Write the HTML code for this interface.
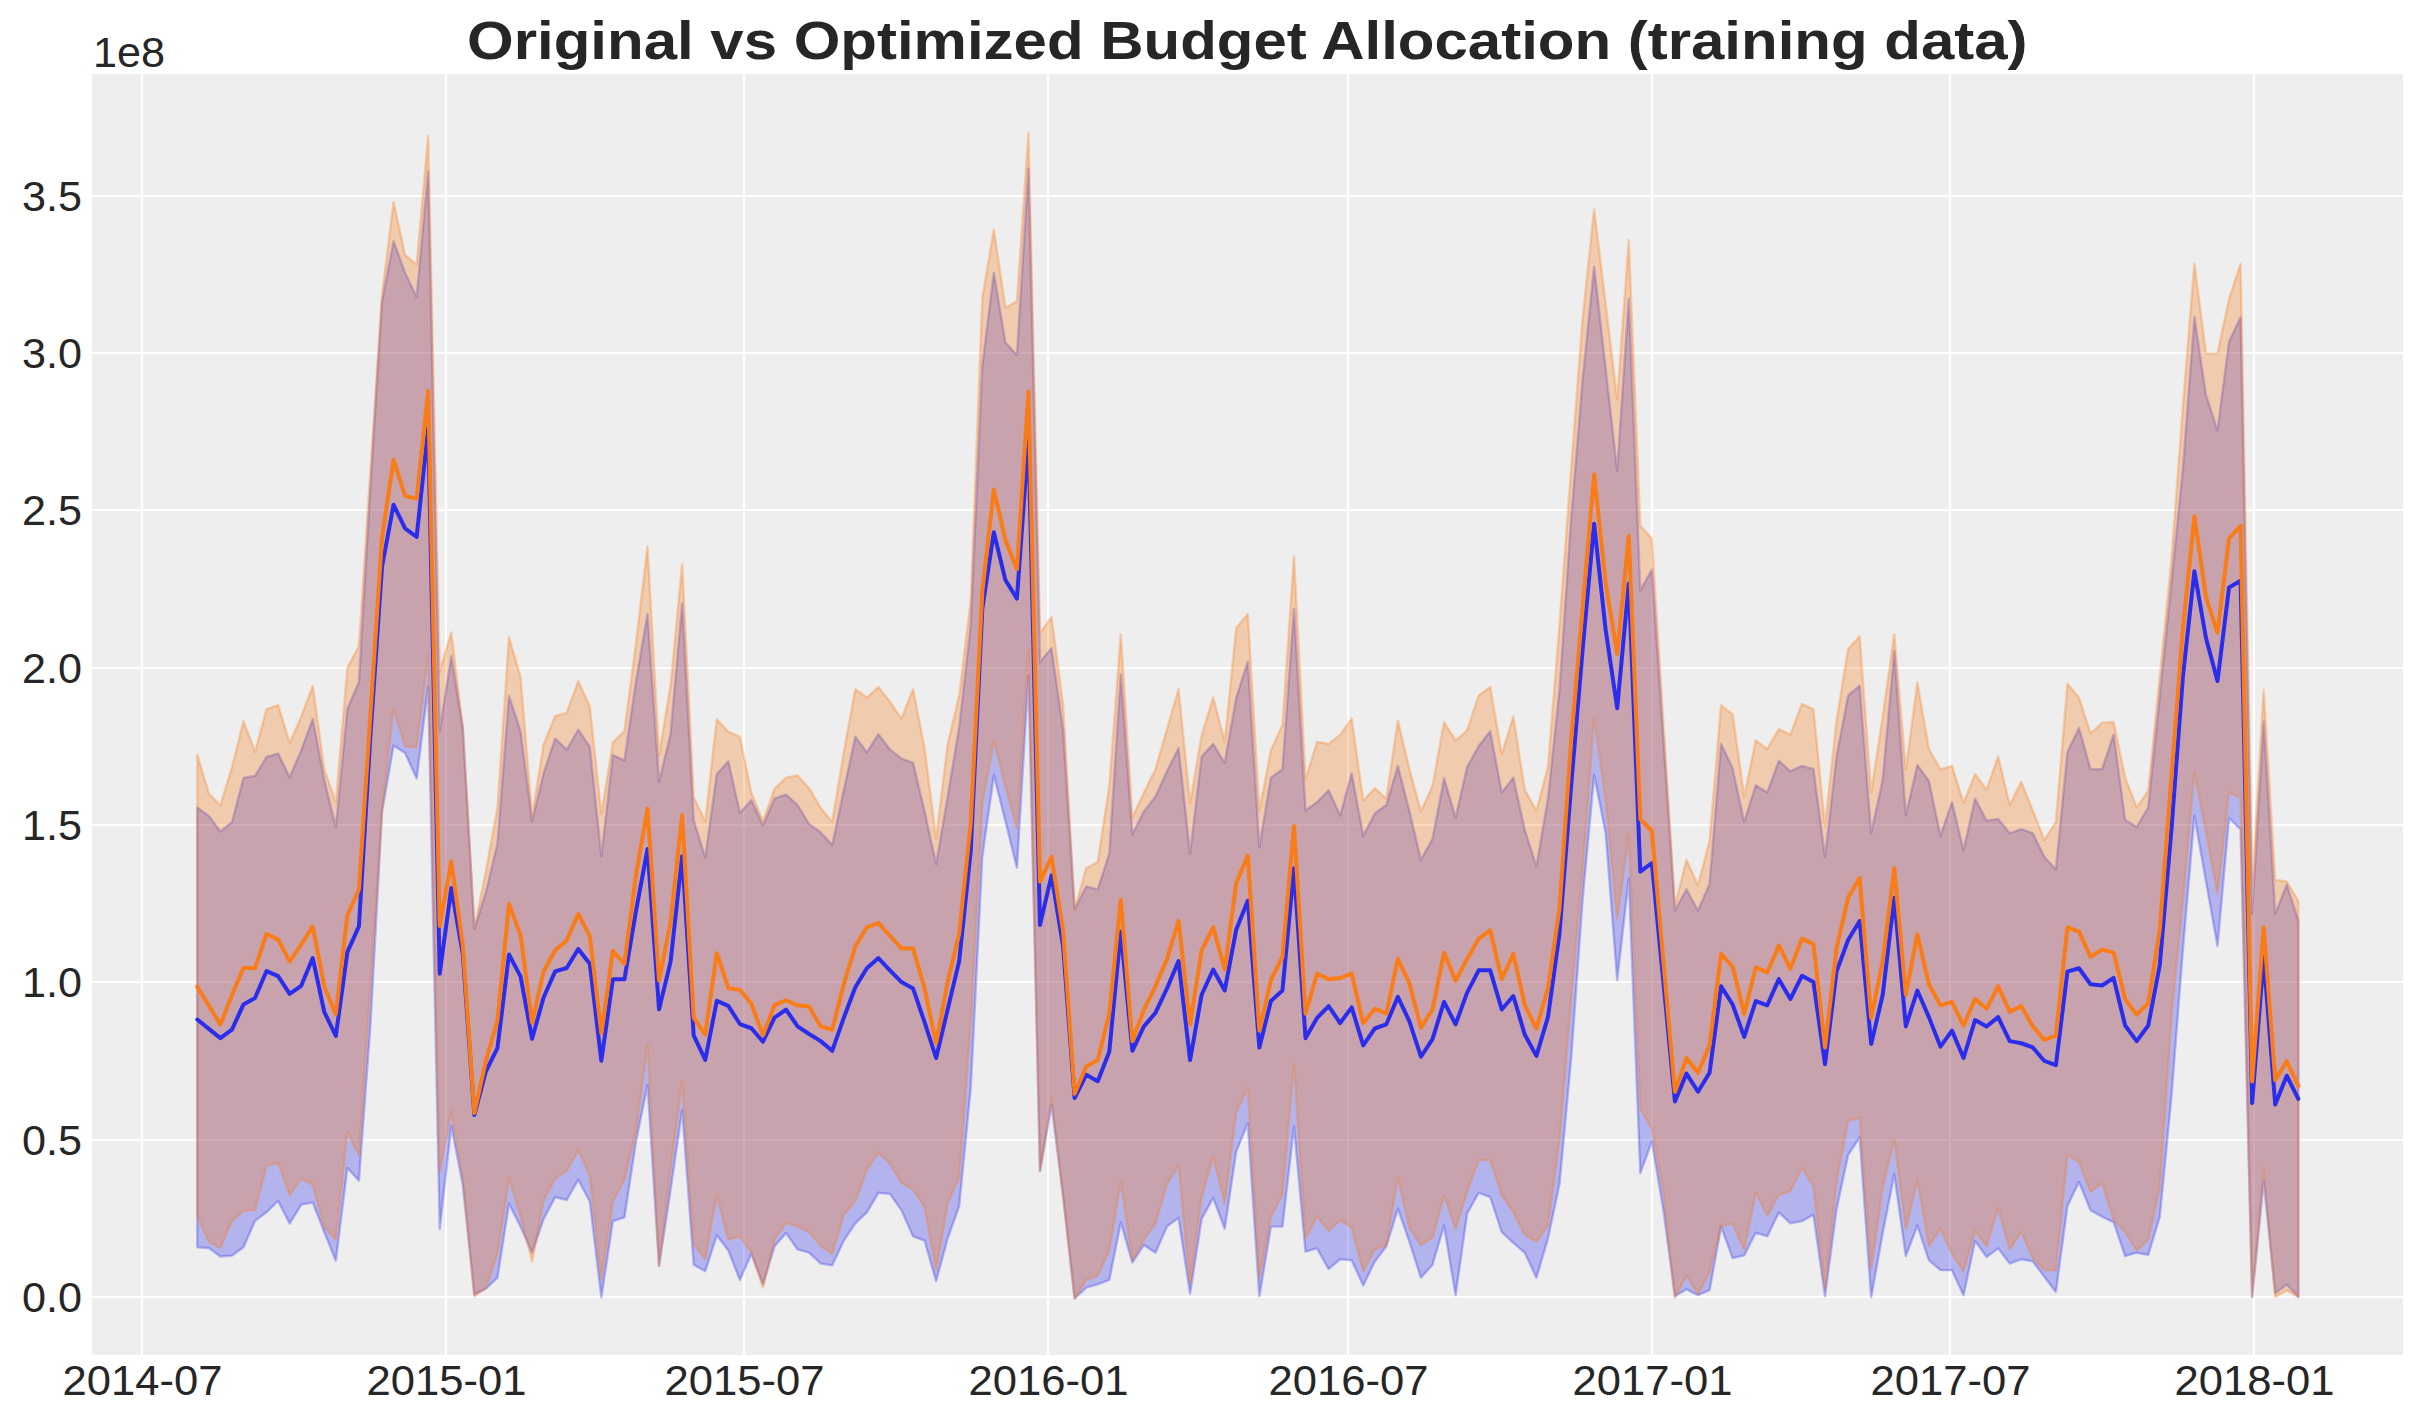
<!DOCTYPE html>
<html><head><meta charset="utf-8"><style>
html,body{margin:0;padding:0;background:#fff;}
svg{display:block;}
text{font-family:"Liberation Sans",sans-serif;fill:#262626;}
</style></head><body>
<svg width="2423" height="1423" viewBox="0 0 2423 1423">
<rect x="0" y="0" width="2423" height="1423" fill="#ffffff"/>
<rect x="92" y="74" width="2311" height="1281" fill="#eeeeee" shape-rendering="crispEdges"/>
<g fill="#ffffff" shape-rendering="crispEdges"><rect x="92" y="1296" width="2311" height="2"/><rect x="92" y="1139" width="2311" height="2"/><rect x="92" y="981" width="2311" height="2"/><rect x="92" y="824" width="2311" height="2"/><rect x="92" y="667" width="2311" height="2"/><rect x="92" y="509" width="2311" height="2"/><rect x="92" y="352" width="2311" height="2"/><rect x="92" y="195" width="2311" height="2"/><rect x="141" y="74" width="2" height="1281"/><rect x="445" y="74" width="2" height="1281"/><rect x="743" y="74" width="2" height="1281"/><rect x="1047" y="74" width="2" height="1281"/><rect x="1347" y="74" width="2" height="1281"/><rect x="1651" y="74" width="2" height="1281"/><rect x="1949" y="74" width="2" height="1281"/><rect x="2253" y="74" width="2" height="1281"/></g>
<polygon points="197.30,807.50 208.84,815.94 220.39,831.53 231.93,822.26 243.48,777.99 255.02,775.89 266.56,756.91 278.11,753.54 289.65,777.15 301.20,750.59 312.74,718.97 324.28,780.10 335.83,827.32 347.37,709.00 358.92,682.00 370.46,486.00 382.00,302.00 393.55,241.20 405.09,272.80 416.64,296.90 428.18,171.70 439.72,730.70 451.27,656.20 462.81,728.00 474.36,928.80 485.90,892.07 497.44,843.59 508.99,696.04 520.53,731.03 532.08,821.25 543.62,773.19 555.16,738.62 566.71,749.58 578.25,729.76 589.80,746.63 601.34,856.24 612.88,755.06 624.43,760.54 635.97,681.28 647.52,613.83 659.06,781.62 670.60,733.98 682.15,603.29 693.69,820.40 705.24,857.50 716.78,774.03 728.32,761.38 739.87,812.82 751.41,800.17 762.96,825.46 774.50,798.48 786.04,794.52 797.59,805.06 809.13,824.03 820.68,832.46 832.22,845.11 843.76,790.30 855.31,736.76 866.85,752.36 878.40,734.23 889.94,749.41 901.48,758.68 913.03,762.90 924.57,811.38 936.12,864.08 947.66,796.63 959.20,727.07 970.75,625.00 982.29,366.20 993.84,272.90 1005.38,342.40 1016.92,355.10 1028.47,168.50 1040.01,662.00 1051.56,648.10 1063.10,730.00 1074.64,909.40 1086.19,886.42 1097.73,889.38 1109.28,853.54 1120.82,674.37 1132.36,834.57 1143.91,811.38 1155.45,796.63 1167.00,771.33 1178.54,748.15 1190.08,853.54 1201.63,756.58 1213.17,743.93 1224.72,762.90 1236.26,697.55 1247.80,661.72 1259.35,847.22 1270.89,777.66 1282.44,769.22 1293.98,609.02 1305.52,810.54 1317.07,802.11 1328.61,790.30 1340.16,815.60 1351.70,773.44 1363.24,835.83 1374.79,813.49 1386.33,805.06 1397.88,765.85 1409.42,811.38 1420.96,859.87 1432.51,838.79 1444.05,778.50 1455.60,817.71 1467.14,767.12 1478.68,746.04 1490.23,731.28 1501.77,792.41 1513.32,777.66 1524.86,830.35 1536.40,866.19 1547.95,798.74 1559.49,690.00 1571.04,520.00 1582.58,380.00 1594.12,266.60 1605.67,368.60 1617.21,470.70 1628.76,299.00 1640.30,590.50 1651.84,569.60 1663.39,740.00 1674.93,910.46 1686.48,889.38 1698.02,910.46 1709.56,883.90 1721.11,743.93 1732.65,768.38 1744.20,821.92 1755.74,785.24 1767.28,792.41 1778.83,760.79 1790.37,771.33 1801.92,765.85 1813.46,769.22 1825.00,856.91 1836.55,756.58 1848.09,695.45 1859.64,685.75 1871.18,833.31 1882.72,779.76 1894.27,651.18 1905.81,815.60 1917.36,765.01 1928.90,781.03 1940.44,835.83 1951.99,802.11 1963.53,850.17 1975.08,798.74 1986.62,820.66 1998.16,818.97 2009.71,833.31 2021.25,829.09 2032.80,833.31 2044.34,856.91 2055.88,869.56 2067.43,752.36 2078.97,727.91 2090.52,769.22 2102.06,769.22 2113.60,734.65 2125.15,819.81 2136.69,827.00 2148.24,807.40 2159.78,696.00 2171.32,584.00 2182.87,469.00 2194.41,317.30 2205.96,395.00 2217.50,430.40 2229.04,341.80 2240.59,317.30 2252.13,913.80 2263.68,721.50 2275.22,913.80 2286.76,884.70 2298.31,920.30 2298.31,1297.00 2286.76,1284.60 2275.22,1293.30 2263.68,1180.90 2252.13,1297.00 2240.59,829.50 2229.04,818.00 2217.50,946.00 2205.96,881.00 2194.41,816.00 2182.87,950.00 2171.32,1098.00 2159.78,1216.78 2148.24,1254.90 2136.69,1252.72 2125.15,1255.99 2113.60,1222.22 2102.06,1216.78 2090.52,1210.24 2078.97,1181.92 2067.43,1205.88 2055.88,1291.94 2044.34,1276.69 2032.80,1261.44 2021.25,1259.26 2009.71,1263.62 1998.16,1248.37 1986.62,1257.08 1975.08,1240.74 1963.53,1295.21 1951.99,1270.15 1940.44,1270.15 1928.90,1260.35 1917.36,1225.49 1905.81,1255.99 1894.27,1174.29 1882.72,1233.12 1871.18,1297.39 1859.64,1137.25 1848.09,1155.12 1836.55,1209.15 1825.00,1296.30 1813.46,1214.60 1801.92,1221.13 1790.37,1223.31 1778.83,1212.42 1767.28,1236.38 1755.74,1232.68 1744.20,1255.34 1732.65,1258.17 1721.11,1226.58 1709.56,1290.20 1698.02,1295.21 1686.48,1289.32 1674.93,1296.30 1663.39,1210.00 1651.84,1141.61 1640.30,1173.20 1628.76,878.70 1617.21,980.00 1605.67,833.00 1594.12,775.00 1582.58,900.00 1571.04,1060.00 1559.49,1184.10 1547.95,1238.56 1536.40,1277.78 1524.86,1252.72 1513.32,1242.92 1501.77,1232.03 1490.23,1197.17 1478.68,1192.81 1467.14,1213.51 1455.60,1295.21 1444.05,1225.49 1432.51,1264.71 1420.96,1277.78 1409.42,1241.83 1397.88,1208.71 1386.33,1246.19 1374.79,1261.44 1363.24,1285.40 1351.70,1260.35 1340.16,1259.26 1328.61,1269.06 1317.07,1248.37 1305.52,1251.63 1293.98,1126.36 1282.44,1226.58 1270.89,1226.58 1259.35,1296.30 1247.80,1123.09 1236.26,1151.42 1224.72,1228.76 1213.17,1197.82 1201.63,1218.95 1190.08,1293.68 1178.54,1217.86 1167.00,1226.58 1155.45,1252.72 1143.91,1245.10 1132.36,1262.53 1120.82,1222.22 1109.28,1279.96 1097.73,1284.31 1086.19,1287.58 1074.64,1298.50 1063.10,1196.00 1051.56,1104.60 1040.01,1171.00 1028.47,676.00 1016.92,867.70 1005.38,821.00 993.84,775.00 982.29,856.80 970.75,1088.00 959.20,1205.88 947.66,1238.56 936.12,1281.05 924.57,1240.74 913.03,1236.38 901.48,1210.24 889.94,1193.90 878.40,1192.81 866.85,1212.42 855.31,1223.31 843.76,1240.74 832.22,1265.36 820.68,1263.62 809.13,1252.72 797.59,1249.46 786.04,1233.12 774.50,1246.19 762.96,1284.31 751.41,1253.81 739.87,1279.96 728.32,1250.54 716.78,1235.29 705.24,1271.24 693.69,1264.71 682.15,1110.02 670.60,1189.54 659.06,1265.80 647.52,1084.97 635.97,1141.61 624.43,1217.43 612.88,1221.13 601.34,1297.39 589.80,1201.53 578.25,1179.74 566.71,1200.00 555.16,1197.17 543.62,1218.95 532.08,1252.72 520.53,1226.58 508.99,1203.70 497.44,1277.78 485.90,1288.67 474.36,1294.40 462.81,1184.80 451.27,1125.80 439.72,1229.00 428.18,687.00 416.64,778.50 405.09,753.00 393.55,745.50 382.00,811.70 370.46,1025.00 358.92,1180.61 347.37,1167.96 335.83,1260.71 324.28,1232.04 312.74,1202.53 301.20,1204.64 289.65,1223.61 278.11,1200.84 266.56,1212.23 255.02,1220.66 243.48,1247.22 231.93,1255.65 220.39,1256.49 208.84,1248.06 197.30,1247.22" fill="rgba(42,46,236,0.3)" stroke="rgba(42,46,236,0.3)" stroke-width="2.4" stroke-linejoin="round"/>
<polygon points="197.30,754.81 208.84,793.59 220.39,805.40 231.93,767.45 243.48,721.08 255.02,751.85 266.56,709.27 278.11,705.06 289.65,743.00 301.20,716.86 312.74,686.00 324.28,769.56 335.83,802.02 347.37,668.00 358.92,646.00 370.46,470.00 382.00,295.00 393.55,202.00 405.09,255.10 416.64,264.40 428.18,135.80 439.72,671.70 451.27,632.30 462.81,727.90 474.36,928.80 485.90,870.99 497.44,807.76 508.99,637.02 520.53,677.07 532.08,816.19 543.62,744.52 555.16,715.85 566.71,712.90 578.25,681.28 589.80,706.58 601.34,814.08 612.88,742.41 624.43,731.03 635.97,643.34 647.52,546.37 659.06,755.06 670.60,685.50 682.15,564.08 693.69,797.22 705.24,821.25 716.78,719.22 728.32,731.87 739.87,736.93 751.41,793.00 762.96,821.25 774.50,788.79 786.04,777.66 797.59,775.55 809.13,788.20 820.68,808.01 832.22,821.92 843.76,752.36 855.31,689.12 866.85,697.55 878.40,687.02 889.94,701.77 901.48,718.63 913.03,689.12 924.57,748.15 936.12,838.79 947.66,743.93 959.20,695.45 970.75,600.00 982.29,298.20 993.84,229.50 1005.38,307.70 1016.92,301.30 1028.47,132.80 1040.01,632.70 1051.56,617.20 1063.10,705.30 1074.64,909.40 1086.19,868.30 1097.73,861.97 1109.28,786.09 1120.82,634.32 1132.36,817.71 1143.91,792.41 1155.45,769.22 1167.00,729.17 1178.54,689.12 1190.08,802.95 1201.63,735.50 1213.17,697.55 1224.72,741.82 1236.26,627.99 1247.80,614.08 1259.35,810.54 1270.89,750.25 1282.44,724.96 1293.98,556.32 1305.52,779.76 1317.07,741.82 1328.61,743.93 1340.16,734.65 1351.70,718.63 1363.24,800.84 1374.79,788.20 1386.33,798.74 1397.88,720.74 1409.42,769.22 1420.96,811.38 1432.51,786.09 1444.05,722.01 1455.60,740.56 1467.14,730.44 1478.68,695.45 1490.23,687.02 1501.77,754.47 1513.32,716.53 1524.86,790.30 1536.40,810.54 1547.95,767.12 1559.49,625.00 1571.04,470.00 1582.58,319.00 1594.12,209.40 1605.67,304.00 1617.21,399.50 1628.76,240.30 1640.30,525.50 1651.84,538.70 1663.39,722.50 1674.93,906.24 1686.48,859.87 1698.02,885.16 1709.56,840.89 1721.11,705.14 1732.65,714.42 1744.20,796.63 1755.74,740.56 1767.28,748.99 1778.83,729.17 1790.37,734.65 1801.92,703.88 1813.46,709.36 1825.00,826.14 1836.55,720.74 1848.09,649.07 1859.64,636.42 1871.18,792.41 1882.72,716.53 1894.27,634.32 1905.81,770.07 1917.36,682.80 1928.90,748.99 1940.44,769.22 1951.99,765.85 1963.53,802.95 1975.08,774.28 1986.62,789.46 1998.16,756.58 2009.71,805.06 2021.25,781.87 2032.80,810.54 2044.34,840.05 2055.88,821.92 2067.43,684.06 2078.97,697.55 2090.52,733.39 2102.06,722.85 2113.60,722.01 2125.15,777.66 2136.69,807.40 2148.24,790.60 2159.78,676.70 2171.32,561.50 2182.87,406.80 2194.41,263.60 2205.96,353.60 2217.50,353.60 2229.04,299.00 2240.59,263.60 2252.13,884.70 2263.68,690.00 2275.22,880.00 2286.76,881.50 2298.31,901.00 2298.31,1297.00 2286.76,1290.40 2275.22,1297.00 2263.68,1168.00 2252.13,1297.00 2240.59,797.60 2229.04,792.50 2217.50,894.00 2205.96,832.00 2194.41,772.00 2182.87,900.00 2171.32,1017.00 2159.78,1187.36 2148.24,1239.65 2136.69,1250.54 2125.15,1232.03 2113.60,1220.04 2102.06,1183.01 2090.52,1191.72 2078.97,1162.31 2067.43,1154.68 2055.88,1270.15 2044.34,1270.15 2032.80,1258.17 2021.25,1232.03 2009.71,1249.46 1998.16,1208.06 1986.62,1246.19 1975.08,1230.94 1963.53,1271.24 1951.99,1253.81 1940.44,1228.76 1928.90,1246.19 1917.36,1179.74 1905.81,1229.19 1894.27,1139.43 1882.72,1187.36 1871.18,1269.06 1859.64,1117.65 1848.09,1120.92 1836.55,1180.83 1825.00,1288.67 1813.46,1186.27 1801.92,1167.76 1790.37,1191.29 1778.83,1194.99 1767.28,1215.69 1755.74,1192.81 1744.20,1249.46 1732.65,1223.97 1721.11,1225.49 1709.56,1272.33 1698.02,1294.12 1686.48,1275.60 1674.93,1297.39 1663.39,1192.00 1651.84,1128.54 1640.30,1108.93 1628.76,834.80 1617.21,919.00 1605.67,800.00 1594.12,718.80 1582.58,870.00 1571.04,1000.00 1559.49,1139.43 1547.95,1225.49 1536.40,1241.83 1524.86,1234.86 1513.32,1212.42 1501.77,1194.99 1490.23,1160.13 1478.68,1160.13 1467.14,1191.72 1455.60,1229.19 1444.05,1195.64 1432.51,1237.47 1420.96,1245.10 1409.42,1227.67 1397.88,1177.56 1386.33,1245.10 1374.79,1249.46 1363.24,1271.24 1351.70,1227.67 1340.16,1220.04 1328.61,1230.94 1317.07,1216.78 1305.52,1238.56 1293.98,1064.27 1282.44,1194.99 1270.89,1216.78 1259.35,1277.78 1247.80,1088.24 1236.26,1112.20 1224.72,1203.70 1213.17,1156.86 1201.63,1197.17 1190.08,1284.31 1178.54,1165.58 1167.00,1184.10 1155.45,1223.31 1143.91,1239.65 1132.36,1260.35 1120.82,1181.92 1109.28,1250.54 1097.73,1275.60 1086.19,1279.96 1074.64,1298.50 1063.10,1196.00 1051.56,1095.90 1040.01,1171.00 1028.47,649.70 1016.92,829.00 1005.38,785.70 993.84,740.90 982.29,804.30 970.75,1022.00 959.20,1177.56 947.66,1203.70 936.12,1270.15 924.57,1206.97 913.03,1189.54 901.48,1183.01 889.94,1163.83 878.40,1152.51 866.85,1169.93 855.31,1201.53 843.76,1214.60 832.22,1253.81 820.68,1246.19 809.13,1232.03 797.59,1226.58 786.04,1222.66 774.50,1239.65 762.96,1287.58 751.41,1252.72 739.87,1236.38 728.32,1239.65 716.78,1194.99 705.24,1259.26 693.69,1244.01 682.15,1081.70 670.60,1167.76 659.06,1265.80 647.52,1044.66 635.97,1130.72 624.43,1179.74 612.88,1201.53 601.34,1279.96 589.80,1175.38 578.25,1150.33 566.71,1171.02 555.16,1178.65 543.62,1200.44 532.08,1261.44 520.53,1215.69 508.99,1178.21 497.44,1253.81 485.90,1287.58 474.36,1296.50 462.81,1176.00 451.27,1111.00 439.72,1172.00 428.18,655.00 416.64,747.60 405.09,746.00 393.55,708.40 382.00,811.70 370.46,985.00 358.92,1155.31 347.37,1132.12 335.83,1239.63 324.28,1226.98 312.74,1184.82 301.20,1178.50 289.65,1195.36 278.11,1162.90 266.56,1165.85 255.02,1210.12 243.48,1210.96 231.93,1220.66 220.39,1248.06 208.84,1241.74 197.30,1216.44" fill="rgba(250,124,23,0.3)" stroke="rgba(250,124,23,0.3)" stroke-width="2.4" stroke-linejoin="round"/>
<polyline points="197.30,1019.56 208.84,1028.84 220.39,1038.11 231.93,1029.68 243.48,1004.38 255.02,998.06 266.56,971.08 278.11,976.14 289.65,993.84 301.20,985.83 312.74,958.01 324.28,1011.97 335.83,1036.00 347.37,952.11 358.92,926.39 370.46,735.00 382.00,567.00 393.55,504.70 405.09,528.30 416.64,537.00 428.18,428.00 439.72,973.80 451.27,888.00 462.81,954.00 474.36,1115.00 485.90,1071.25 497.44,1048.06 508.99,954.47 520.53,976.39 532.08,1038.79 543.62,997.47 555.16,971.33 566.71,967.96 578.25,948.99 589.80,963.74 601.34,1060.71 612.88,979.34 624.43,979.34 635.97,911.05 647.52,849.07 659.06,1009.27 670.60,961.64 682.15,856.24 693.69,1035.41 705.24,1059.87 716.78,1000.84 728.32,1005.90 739.87,1024.03 751.41,1028.25 762.96,1041.74 774.50,1017.71 786.04,1009.53 797.59,1026.39 809.13,1033.98 820.68,1041.15 832.22,1050.84 843.76,1017.96 855.31,987.18 866.85,968.21 878.40,958.09 889.94,970.32 901.48,982.12 913.03,988.45 924.57,1022.18 936.12,1058.01 947.66,1009.53 959.20,961.05 970.75,850.70 982.29,609.00 993.84,532.20 1005.38,580.00 1016.92,598.60 1028.47,438.90 1040.01,924.90 1051.56,875.40 1063.10,946.50 1074.64,1098.00 1086.19,1074.87 1097.73,1081.20 1109.28,1051.69 1120.82,931.53 1132.36,1050.84 1143.91,1026.39 1155.45,1012.90 1167.00,988.45 1178.54,961.05 1190.08,1060.12 1201.63,994.77 1213.17,969.48 1224.72,990.56 1236.26,929.43 1247.80,900.76 1259.35,1047.47 1270.89,1001.10 1282.44,990.56 1293.98,868.30 1305.52,1038.20 1317.07,1017.96 1328.61,1006.16 1340.16,1023.02 1351.70,1007.42 1363.24,1045.36 1374.79,1028.50 1386.33,1024.28 1397.88,996.88 1409.42,1021.33 1420.96,1056.75 1432.51,1039.04 1444.05,1001.94 1455.60,1024.28 1467.14,992.66 1478.68,970.32 1490.23,970.32 1501.77,1009.53 1513.32,996.04 1524.86,1034.82 1536.40,1055.90 1547.95,1017.12 1559.49,933.64 1571.04,787.00 1582.58,650.00 1594.12,523.80 1605.67,630.00 1617.21,708.30 1628.76,583.50 1640.30,871.60 1651.84,863.00 1663.39,982.00 1674.93,1101.43 1686.48,1073.61 1698.02,1091.74 1709.56,1072.77 1721.11,986.34 1732.65,1004.47 1744.20,1036.93 1755.74,1001.10 1767.28,1005.31 1778.83,979.17 1790.37,998.99 1801.92,975.80 1813.46,982.12 1825.00,1064.33 1836.55,971.59 1848.09,939.97 1859.64,920.99 1871.18,1044.10 1882.72,994.77 1894.27,897.81 1905.81,1026.39 1917.36,990.56 1928.90,1017.12 1940.44,1046.63 1951.99,1030.61 1963.53,1058.01 1975.08,1020.07 1986.62,1026.39 1998.16,1017.12 2009.71,1041.15 2021.25,1043.25 2032.80,1047.47 2044.34,1060.96 2055.88,1065.18 2067.43,971.59 2078.97,968.21 2090.52,984.23 2102.06,985.50 2113.60,977.91 2125.15,1025.55 2136.69,1041.15 2148.24,1025.55 2159.78,965.00 2171.32,831.00 2182.87,677.00 2194.41,571.30 2205.96,638.00 2217.50,681.00 2229.04,587.50 2240.59,580.80 2252.13,1103.10 2263.68,957.60 2275.22,1104.50 2286.76,1075.70 2298.31,1098.80" fill="none" stroke="#2a2eec" stroke-width="4" stroke-linejoin="round" stroke-linecap="round"/>
<polyline points="197.30,986.68 208.84,1005.65 220.39,1024.62 231.93,995.11 243.48,967.71 255.02,968.13 266.56,933.98 278.11,939.46 289.65,961.38 301.20,944.52 312.74,926.39 324.28,986.68 335.83,1014.08 347.37,915.01 358.92,889.71 370.46,714.00 382.00,538.00 393.55,459.80 405.09,496.00 416.64,498.60 428.18,391.00 439.72,926.00 451.27,861.40 462.81,945.70 474.36,1113.00 485.90,1060.71 497.44,1020.66 508.99,903.88 520.53,935.08 532.08,1022.77 543.62,971.33 555.16,950.25 566.71,940.56 578.25,914.00 589.80,936.34 601.34,1033.31 612.88,951.10 624.43,963.74 635.97,875.21 647.52,808.60 659.06,980.61 670.60,921.59 682.15,815.35 693.69,1017.71 705.24,1034.57 716.78,953.20 728.32,988.20 739.87,989.88 751.41,1003.79 762.96,1035.41 774.50,1005.06 786.04,1000.25 797.59,1005.31 809.13,1006.58 820.68,1026.39 832.22,1029.76 843.76,984.23 855.31,946.29 866.85,927.32 878.40,923.10 889.94,935.75 901.48,948.40 913.03,948.40 924.57,988.45 936.12,1043.25 947.66,982.12 959.20,933.64 970.75,822.80 982.29,592.00 993.84,489.50 1005.38,540.00 1016.92,569.30 1028.47,391.50 1040.01,881.60 1051.56,856.90 1063.10,931.00 1074.64,1093.80 1086.19,1066.44 1097.73,1060.12 1109.28,1013.74 1120.82,899.92 1132.36,1041.15 1143.91,1009.53 1155.45,986.34 1167.00,958.94 1178.54,920.99 1190.08,1024.28 1201.63,950.51 1213.17,927.32 1224.72,969.48 1236.26,883.05 1247.80,855.65 1259.35,1030.61 1270.89,980.02 1282.44,956.83 1293.98,826.14 1305.52,1013.74 1317.07,973.69 1328.61,979.17 1340.16,977.91 1351.70,973.69 1363.24,1023.02 1374.79,1008.68 1386.33,1013.74 1397.88,958.94 1409.42,983.39 1420.96,1027.66 1432.51,1009.53 1444.05,952.61 1455.60,980.86 1467.14,958.94 1478.68,938.70 1490.23,930.27 1501.77,979.17 1513.32,953.88 1524.86,1005.31 1536.40,1028.50 1547.95,988.45 1559.49,908.35 1571.04,741.60 1582.58,608.00 1594.12,474.60 1605.67,583.00 1617.21,653.80 1628.76,536.00 1640.30,819.00 1651.84,831.00 1663.39,961.60 1674.93,1091.74 1686.48,1058.01 1698.02,1072.77 1709.56,1045.36 1721.11,953.88 1732.65,966.53 1744.20,1013.74 1755.74,967.37 1767.28,972.43 1778.83,945.45 1790.37,968.63 1801.92,938.70 1813.46,944.18 1825.00,1047.47 1836.55,948.40 1848.09,897.81 1859.64,877.99 1871.18,1017.96 1882.72,961.05 1894.27,868.30 1905.81,994.77 1917.36,934.49 1928.90,984.23 1940.44,1005.31 1951.99,1001.94 1963.53,1025.55 1975.08,998.99 1986.62,1008.68 1998.16,986.34 2009.71,1011.64 2021.25,1006.16 2032.80,1026.39 2044.34,1039.88 2055.88,1035.67 2067.43,927.32 2078.97,931.53 2090.52,956.83 2102.06,949.66 2113.60,952.61 2125.15,998.99 2136.69,1014.59 2148.24,1003.20 2159.78,930.00 2171.32,778.00 2182.87,629.00 2194.41,516.50 2205.96,597.00 2217.50,632.60 2229.04,538.50 2240.59,525.80 2252.13,1081.50 2263.68,927.40 2275.22,1080.00 2286.76,1061.30 2298.31,1085.80" fill="none" stroke="#fa7c17" stroke-width="4" stroke-linejoin="round" stroke-linecap="round"/>
<g font-size="42.4"><text x="81.9" y="1311.8" text-anchor="end" textLength="60" lengthAdjust="spacingAndGlyphs">0.0</text><text x="81.9" y="1154.8" text-anchor="end" textLength="60" lengthAdjust="spacingAndGlyphs">0.5</text><text x="81.9" y="996.8" text-anchor="end" textLength="60" lengthAdjust="spacingAndGlyphs">1.0</text><text x="81.9" y="839.8" text-anchor="end" textLength="60" lengthAdjust="spacingAndGlyphs">1.5</text><text x="81.9" y="682.8" text-anchor="end" textLength="60" lengthAdjust="spacingAndGlyphs">2.0</text><text x="81.9" y="524.8" text-anchor="end" textLength="60" lengthAdjust="spacingAndGlyphs">2.5</text><text x="81.9" y="367.8" text-anchor="end" textLength="60" lengthAdjust="spacingAndGlyphs">3.0</text><text x="81.9" y="210.8" text-anchor="end" textLength="60" lengthAdjust="spacingAndGlyphs">3.5</text><text x="142.5" y="1395.3" text-anchor="middle" textLength="160" lengthAdjust="spacingAndGlyphs">2014-07</text><text x="446.5" y="1395.3" text-anchor="middle" textLength="160" lengthAdjust="spacingAndGlyphs">2015-01</text><text x="744.5" y="1395.3" text-anchor="middle" textLength="160" lengthAdjust="spacingAndGlyphs">2015-07</text><text x="1048.5" y="1395.3" text-anchor="middle" textLength="160" lengthAdjust="spacingAndGlyphs">2016-01</text><text x="1348.5" y="1395.3" text-anchor="middle" textLength="160" lengthAdjust="spacingAndGlyphs">2016-07</text><text x="1652.5" y="1395.3" text-anchor="middle" textLength="160" lengthAdjust="spacingAndGlyphs">2017-01</text><text x="1950.5" y="1395.3" text-anchor="middle" textLength="160" lengthAdjust="spacingAndGlyphs">2017-07</text><text x="2254.5" y="1395.3" text-anchor="middle" textLength="160" lengthAdjust="spacingAndGlyphs">2018-01</text></g>
<text x="93" y="66.8" font-size="43" textLength="72" lengthAdjust="spacingAndGlyphs">1e8</text>
<text x="1247.3" y="59" font-size="53" font-weight="bold" text-anchor="middle" textLength="1560.5" lengthAdjust="spacingAndGlyphs">Original vs Optimized Budget Allocation (training data)</text>
</svg>
</body></html>
